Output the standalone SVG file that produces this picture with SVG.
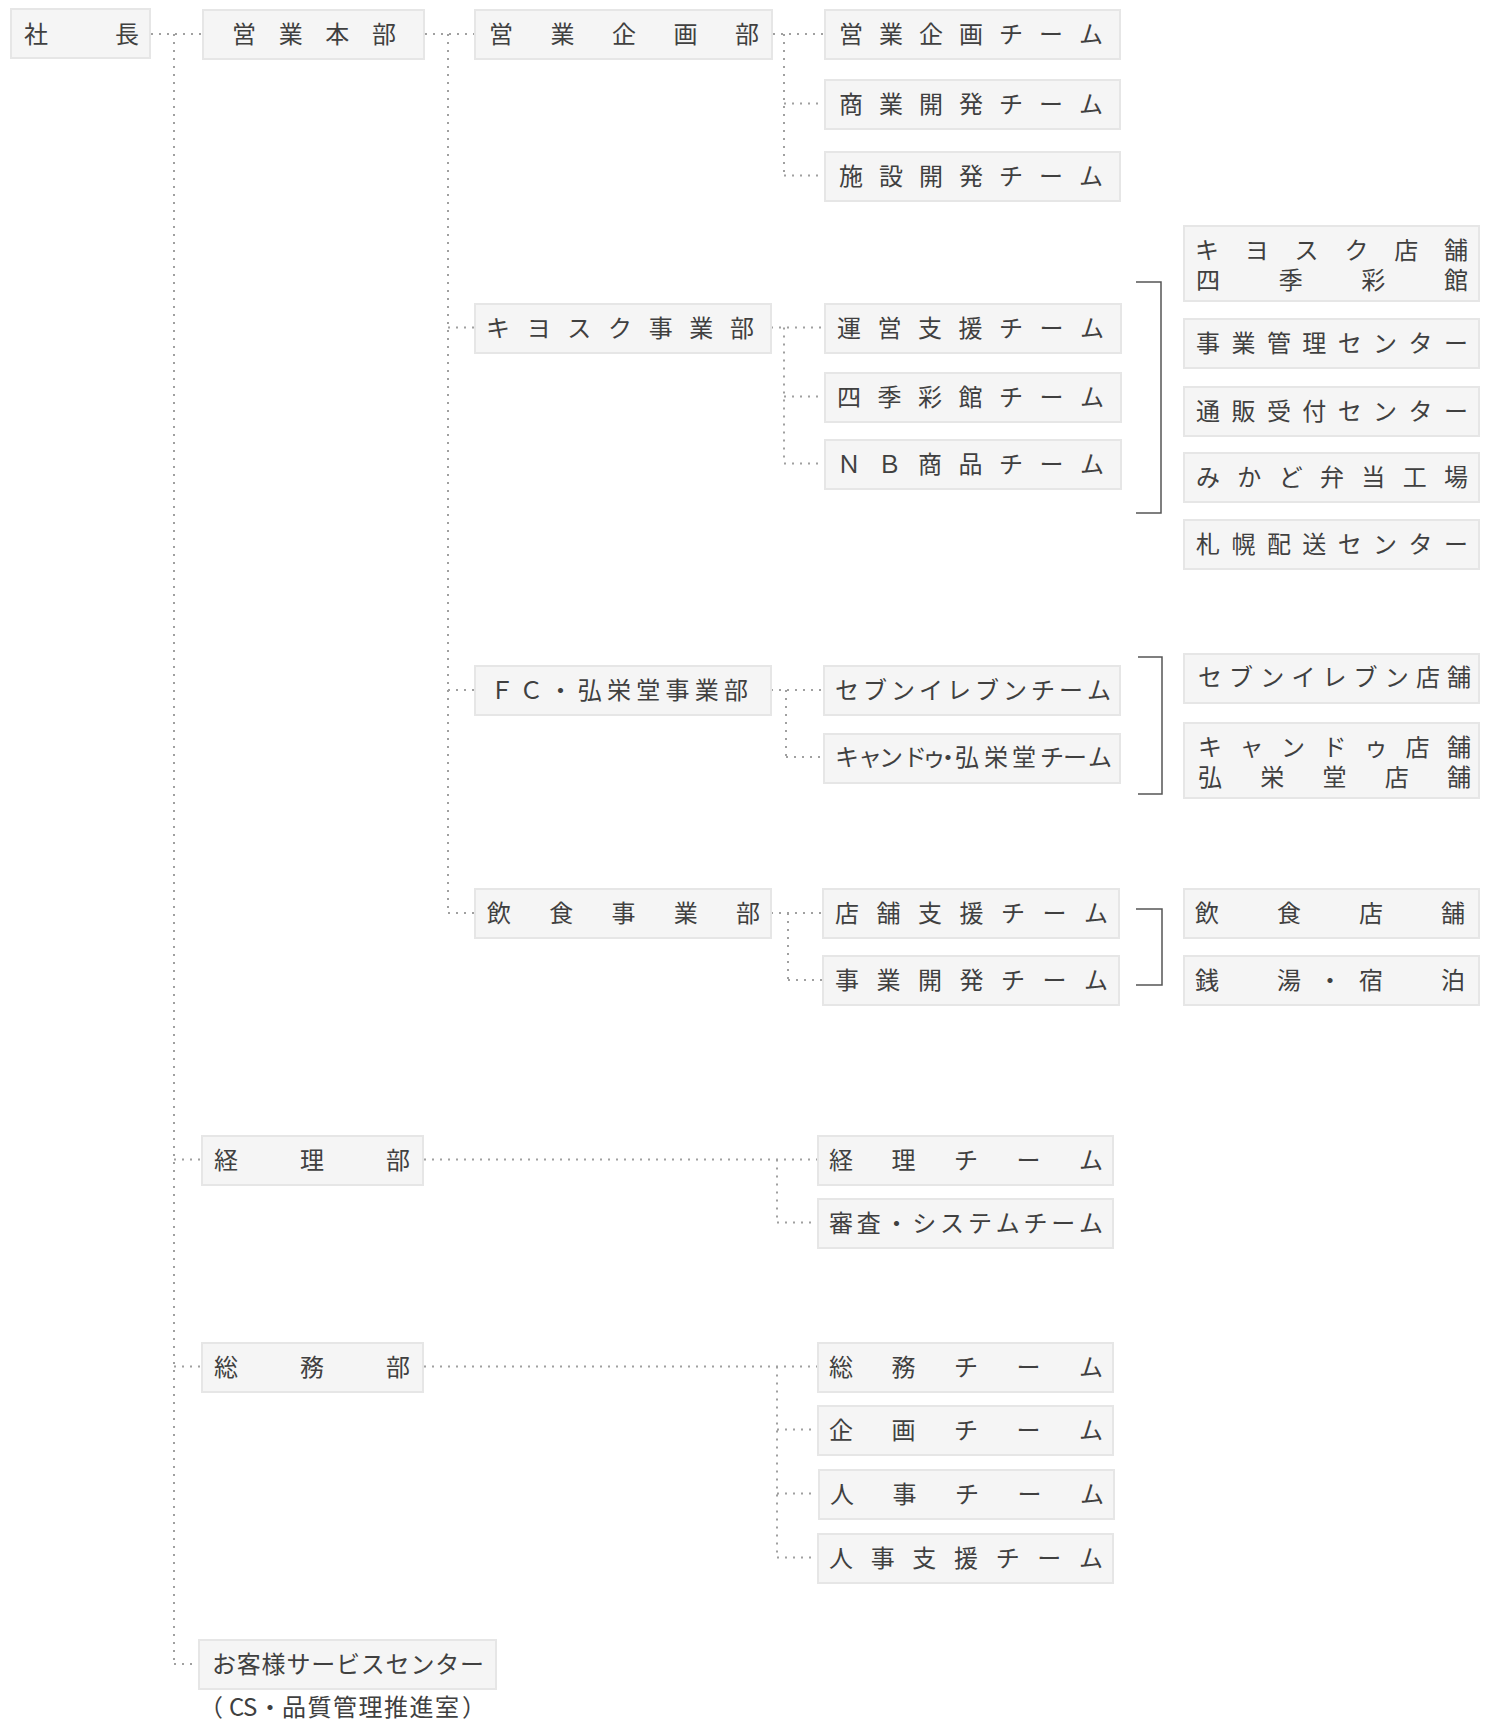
<svg xmlns="http://www.w3.org/2000/svg" width="1489" height="1727" viewBox="0 0 1489 1727">
<style>
.box{fill:#f5f5f5;stroke:#e6e6e6;stroke-width:2}
.t{font-family:"Noto Sans CJK JP","Noto Sans CJK SC",sans-serif;font-size:24px;font-weight:400;fill:#404040}
.dot{fill:none;stroke:#a0a0a0;stroke-width:2;stroke-dasharray:2 6}
.br{fill:none;stroke:#555;stroke-width:1.5}
</style>
<rect width="1489" height="1727" fill="#fff"/>
<g id="connectors">
<path class="dot" d="M151 34H202M174 34V1664M174 1159.5H201M174 1366.5H201M174 1664H198"/>
<path class="dot" d="M425 34H474M448 34V913M448 327.5H474M448 690H474M448 913H474"/>
<path class="dot" d="M773 34H824M784 34V175.5M784 103.5H824M784 175.5H824"/>
<path class="dot" d="M771 327.5H824M784 327.5V463.5M784 396.5H824M784 463.5H824"/>
<path class="dot" d="M771 690H823M786 690V757M786 757H823"/>
<path class="dot" d="M771 913H822M788 913V980M788 980H822"/>
<path class="dot" d="M424 1159.5H817M777 1159.5V1222.5M777 1222.5H817"/>
<path class="dot" d="M424 1366.5H817M777 1366.5V1557.5M777 1429.5H817M777 1493.5H817M777 1557.5H817"/>
<path class="br" d="M1136 282H1161V513H1136"/>
<path class="br" d="M1138 657H1162V794H1138"/>
<path class="br" d="M1136 909H1162V985H1136"/>
</g>
<g id="shacho"><rect class="box" x="11" y="9" width="139" height="49"/><text class="t" x="24 115" y="43">社長</text></g>
<g id="eigyo-honbu"><rect class="box" x="203" y="10" width="221" height="49"/><text class="t" x="232 278.7 325.3 372" y="43">営業本部</text></g>
<g id="eigyo-kikaku-bu"><rect class="box" x="475" y="10" width="297" height="49"/><text class="t" x="489 550.5 612 673.5 735" y="43">営業企画部</text></g>
<g id="eigyo-kikaku-team"><rect class="box" x="825" y="10" width="295" height="49"/><text class="t" x="839 879 919 959 999 1039 1079" y="43">営業企画チーム</text></g>
<g id="shogyo-kaihatsu-team"><rect class="box" x="825" y="80" width="295" height="49"/><text class="t" x="839 879 919 959 999 1039 1079" y="112.5">商業開発チーム</text></g>
<g id="shisetsu-kaihatsu-team"><rect class="box" x="825" y="152" width="295" height="49"/><text class="t" x="839 879 919 959 999 1039 1079" y="184.5">施設開発チーム</text></g>
<g id="kiosk-bu"><rect class="box" x="475" y="304" width="296" height="49"/><text class="t" x="486 526.7 567.3 608 648.7 689.3 730" y="336.5">キヨスク事業部</text></g>
<g id="unei-shien-team"><rect class="box" x="825" y="304" width="296" height="49"/><text class="t" x="837 877.5 918 958.5 999 1039.5 1080" y="336.5">運営支援チーム</text></g>
<g id="shikisaikan-team"><rect class="box" x="825" y="373" width="296" height="49"/><text class="t" x="837 877.5 918 958.5 999 1039.5 1080" y="405.5">四季彩館チーム</text></g>
<g id="nb-team"><rect class="box" x="825" y="440" width="296" height="49"/><text class="t" x="837 877.5 918 958.5 999 1039.5 1080" y="472.5">ＮＢ商品チーム</text></g>
<g id="kiosk-tenpo"><rect class="box" x="1184" y="226" width="295" height="75"/><text class="t"><tspan x="1195 1244.8 1294.6 1344.4 1394.2 1444" y="258.5">キヨスク店舗</tspan><tspan x="1196 1278.7 1361.3 1444" y="289">四季彩館</tspan></text></g>
<g id="jigyo-kanri-center"><rect class="box" x="1184" y="319" width="295" height="49"/><text class="t" x="1196 1231.4 1266.9 1302.3 1337.7 1373.1 1408.6 1444" y="352">事業管理センター</text></g>
<g id="tsuhan-center"><rect class="box" x="1184" y="387" width="295" height="49"/><text class="t" x="1196 1231.4 1266.9 1302.3 1337.7 1373.1 1408.6 1444" y="419.5">通販受付センター</text></g>
<g id="mikado-kojo"><rect class="box" x="1184" y="453" width="295" height="49"/><text class="t" x="1196 1237.3 1278.7 1320 1361.3 1402.7 1444" y="485.5">みかど弁当工場</text></g>
<g id="sapporo-center"><rect class="box" x="1184" y="520" width="295" height="49"/><text class="t" x="1196 1231.4 1266.9 1302.3 1337.7 1373.1 1408.6 1444" y="552.5">札幌配送センター</text></g>
<g id="fc-bu"><rect class="box" x="475" y="666" width="296" height="49"/><text class="t" x="490 519.3 548.5 577.8 607 636.3 665.5 694.8 724" y="699">ＦＣ・弘栄堂事業部</text></g>
<g id="seven-team"><rect class="box" x="824" y="666" width="296" height="49"/><text class="t" x="835 863 891 919 947 975 1003 1031 1059 1087" y="699">セブンイレブンチーム</text></g>
<g id="cando-team"><rect class="box" x="824" y="734" width="296" height="49"/><text class="t" x="835 858 879 903 922 936 955 984 1012 1040 1063 1088" y="766">キャンドゥ・弘栄堂チーム</text></g>
<g id="seven-tenpo"><rect class="box" x="1184" y="654" width="295" height="49"/><text class="t" x="1198 1229.1 1260.3 1291.4 1322.5 1353.6 1384.8 1415.9 1447" y="686">セブンイレブン店舗</text></g>
<g id="cando-tenpo"><rect class="box" x="1184" y="723" width="295" height="75"/><text class="t"><tspan x="1198 1239.5 1281 1322.5 1364 1405.5 1447" y="756">キャンドゥ店舗</tspan><tspan x="1198 1260.3 1322.5 1384.8 1447" y="786">弘栄堂店舗</tspan></text></g>
<g id="inshoku-bu"><rect class="box" x="475" y="889" width="296" height="49"/><text class="t" x="487 549.3 611.5 673.8 736" y="922">飲食事業部</text></g>
<g id="tenpo-shien-team"><rect class="box" x="823" y="889" width="296" height="49"/><text class="t" x="835 876.5 918 959.5 1001 1042.5 1084" y="922">店舗支援チーム</text></g>
<g id="jigyo-kaihatsu-team"><rect class="box" x="823" y="956" width="296" height="49"/><text class="t" x="835 876.5 918 959.5 1001 1042.5 1084" y="989">事業開発チーム</text></g>
<g id="inshoku-tenpo"><rect class="box" x="1184" y="889" width="295" height="49"/><text class="t" x="1195 1277 1359 1441" y="922">飲食店舗</text></g>
<g id="sento-shukuhaku"><rect class="box" x="1184" y="956" width="295" height="49"/><text class="t" x="1195 1277 1318 1359 1441" y="989">銭湯・宿泊</text></g>
<g id="keiri-bu"><rect class="box" x="202" y="1136" width="221" height="49"/><text class="t" x="214 300 386" y="1168.5">経理部</text></g>
<g id="keiri-team"><rect class="box" x="818" y="1136" width="295" height="49"/><text class="t" x="829 891.5 954 1016.5 1079" y="1168.5">経理チーム</text></g>
<g id="shinsa-team"><rect class="box" x="818" y="1199" width="295" height="49"/><text class="t" x="829 856.8 884.6 912.3 940.1 967.9 995.7 1023.4 1051.2 1079" y="1231.5">審査・システムチーム</text></g>
<g id="somu-bu"><rect class="box" x="202" y="1343" width="221" height="49"/><text class="t" x="214 300 386" y="1375.5">総務部</text></g>
<g id="somu-team"><rect class="box" x="818" y="1343" width="295" height="49"/><text class="t" x="829 891.5 954 1016.5 1079" y="1375.5">総務チーム</text></g>
<g id="kikaku-team"><rect class="box" x="818" y="1406" width="295" height="49"/><text class="t" x="829 891.5 954 1016.5 1079" y="1438.5">企画チーム</text></g>
<g id="jinji-team"><rect class="box" x="819" y="1470" width="295" height="49"/><text class="t" x="830 892.5 955 1017.5 1080" y="1502.5">人事チーム</text></g>
<g id="jinji-shien-team"><rect class="box" x="818" y="1534" width="295" height="49"/><text class="t" x="829 870.7 912.3 954 995.7 1037.3 1079" y="1566.5">人事支援チーム</text></g>
<g id="customer-service"><rect class="box" x="199" y="1640" width="297" height="49"/><text class="t" x="212 236.8 261.6 286.4 311.2 336 360.8 385.6 410.4 435.2 460" y="1673">お客様サービスセンター</text><text class="t" x="199 229 243 258 282 307.5 333 358.5 384 409.5 435 462" y="1716">（CS・品質管理推進室）</text></g>
</svg>
